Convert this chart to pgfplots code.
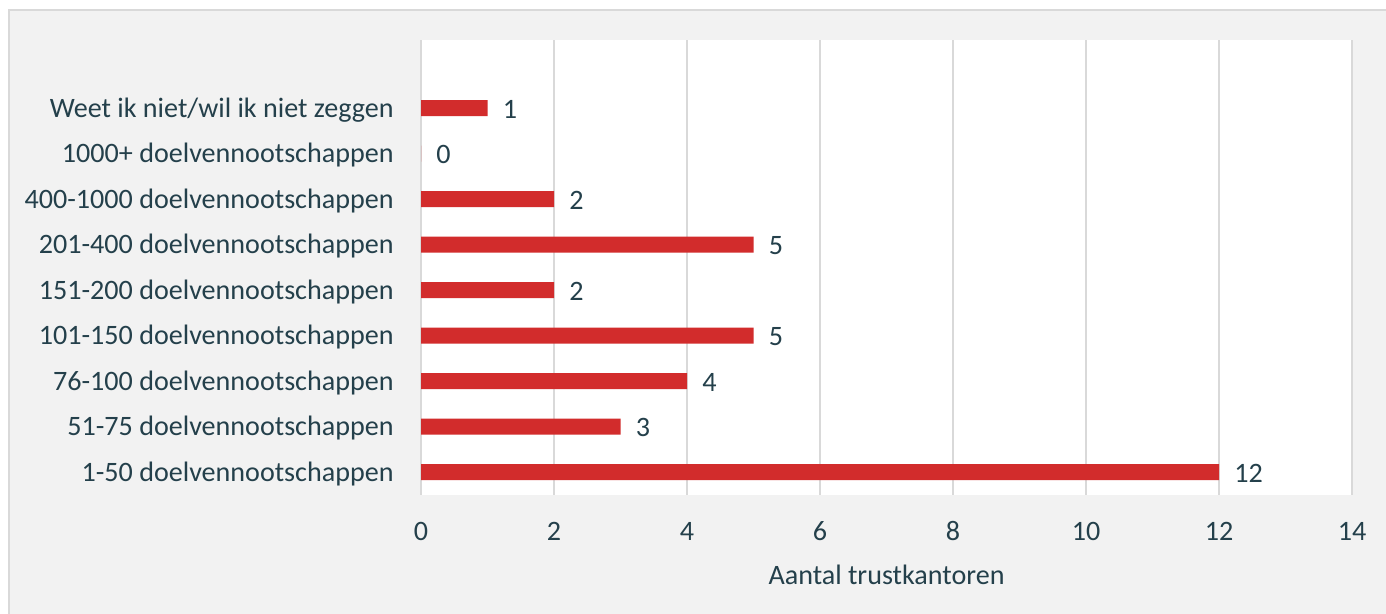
\documentclass[border=0pt]{standalone}
\usepackage{pgfplots}
\pgfplotsset{compat=1.18}
\usepackage{fontspec}
\setmainfont{Carlito}
\definecolor{barred}{HTML}{D22C2C}
\definecolor{txt}{HTML}{24404B}
\definecolor{gridc}{HTML}{D9D9D9}
\definecolor{bgc}{HTML}{F2F2F2}
\newcommand{\lf}{\fontsize{14.1}{17}\selectfont}
\begin{document}
\lf
\begin{tikzpicture}[x=0.5bp,y=0.5bp]
\path[use as bounding box] (0,0) rectangle (1386,614);
\fill[bgc] (8,0) rectangle (1386,604);
\draw[gridc,line width=1bp] (8.5,0) -- (8.5,603.5) -- (1386,603.5);
\begin{axis}[
  at={(210.5bp,59.5bp)}, anchor=south west,
  scale only axis, width=465.5bp, height=227.5bp,
  xbar, bar width=8bp,
  xmin=0, xmax=14, ymin=-0.5, ymax=9.5,
  xtick={0,2,...,14}, ytick={0,...,8},
  yticklabels={1-50 doelvennootschappen,51-75 doelvennootschappen,76-100 doelvennootschappen,101-150 doelvennootschappen,151-200 doelvennootschappen,201-400 doelvennootschappen,400-1000 doelvennootschappen,1000+ doelvennootschappen,Weet ik niet/wil ik niet zeggen},
  axis line style={draw=none},
  major tick length=0pt,
  xmajorgrids, ymajorgrids=false,
  grid style={gridc, line width=1bp},
  axis background/.style={fill=white},
  tick label style={font=\lf, text=txt, inner sep=0pt},
  xticklabel style={anchor=center, yshift=-18bp},
  yticklabel style={anchor=east, xshift=-13.5bp, yshift=-0.8bp},
  /pgf/number format/assume math mode=true,
  xlabel={Aantal trustkantoren},
  xlabel style={at={(axis description cs:0.5,0)}, anchor=center, yshift=-40bp, font=\lf, text=txt, inner sep=0pt},
  nodes near coords,
  every node near coord/.append style={anchor=west, inner sep=0pt, xshift=7.5bp, yshift=-0.5bp, text=txt, font=\lf},
  clip=false,
]
\addplot[fill=barred, draw=none] coordinates {
  (12,0) (3,1) (4,2) (5,3) (2,4) (5,5) (2,6) (0,7) (1,8)
};
\end{axis}
\end{tikzpicture}
\end{document}
